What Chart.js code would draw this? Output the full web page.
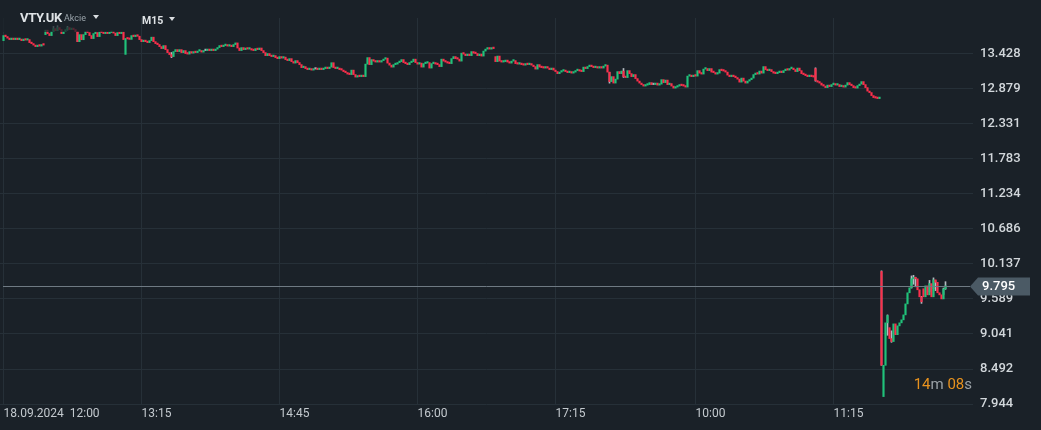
<!DOCTYPE html>
<html>
<head>
<meta charset="utf-8">
<script src="https://cdn.jsdelivr.net/npm/chart.js@4"></script>
<style>
  html, body { margin: 0; padding: 0; background: #1a2128; overflow: hidden; }
  #wrap { position: relative; width: 1041px; height: 430px; }
  canvas { display: block; }
  .hdr { position: absolute; font-family: Roboto, sans-serif; color: #dfe3e6; white-space: nowrap; }
  .sym { left: 20px; top: 10px; font-size: 13px; font-weight: 700; letter-spacing: -0.3px; }
  .kind { left: 64px; top: 13px; font-size: 9px; color: #9aa4ab; }
  .tri { width: 0; height: 0; border-left: 3.5px solid transparent; border-right: 3.5px solid transparent; border-top: 4px solid #d9dde0; }
  .tf { left: 142px; top: 14px; font-size: 10.5px; font-weight: 700; }
  #timer { position: absolute; right: 69px; top: 375px; font-family: Roboto, sans-serif; font-size: 15px; color: #9aa1a6; }
  #timer b { font-weight: 400; color: #e8921e; }
</style>
</head>
<body>
<div id="wrap">
  <canvas id="chart" width="1041" height="430"></canvas>
  <div class="hdr sym">VTY.UK</div>
  <div class="hdr kind">Akcie</div>
  <div class="hdr tri" style="left:93px;top:15px"></div>
  <div class="hdr tf">M15</div>
  <div class="hdr tri" style="left:169px;top:17px"></div>
  <div id="timer"></div>
</div>
<script>
(function () {
    'use strict';

    // ── data ─────────────────────────────────────────────────────────
    const timeLabels = ['18.09.2024  12:00', '13:15', '14:45', '16:00', '17:15', '10:00', '11:15'];
    const labelIdx = [0, 69, 138, 207, 276, 346, 415];   // candle index under each time label
    const priceTicks = [13.428, 12.879, 12.331, 11.783, 11.234, 10.686, 10.137, 9.589, 9.041, 8.492, 7.944];
    const lastPrice = 9.795;
    const countdown = [['14', true], ['m ', false], ['08', true], ['s', false]];

    // close of every candle, in order
    const closes = [
        13.715, 13.699, 13.675, 13.652, 13.66, 13.652, 13.66, 13.652, 13.66, 13.636,
        13.66, 13.644, 13.652, 13.605, 13.589, 13.566, 13.542, 13.558, 13.55, 13.574,
        13.566, 13.80, 13.746, 13.715, 13.777, 13.824, 13.793, 13.84, 13.809, 13.746,
        13.777, 13.809, 13.84, 13.809, 13.832, 13.809, 13.777, 13.62, 13.73, 13.65,
        13.73, 13.777, 13.762, 13.715, 13.668, 13.746, 13.762, 13.699, 13.77, 13.762,
        13.746, 13.762, 13.746, 13.762, 13.777, 13.754, 13.715, 13.762, 13.746, 13.77,
        13.652, 13.67, 13.662, 13.655, 13.715, 13.699, 13.72, 13.705, 13.652, 13.62,
        13.644, 13.62, 13.605, 13.636, 13.69, 13.62, 13.589, 13.574, 13.542, 13.511,
        13.558, 13.495, 13.448, 13.417, 13.386, 13.464, 13.495, 13.464, 13.495, 13.448,
        13.48, 13.433, 13.425, 13.464, 13.44, 13.464, 13.448, 13.472, 13.48, 13.456,
        13.48, 13.48, 13.488, 13.48, 13.495, 13.48, 13.503, 13.527, 13.558, 13.542,
        13.558, 13.566, 13.55, 13.558, 13.542, 13.574, 13.60, 13.52, 13.48, 13.527,
        13.495, 13.52, 13.503, 13.511, 13.488, 13.48, 13.511, 13.495, 13.52, 13.48,
        13.448, 13.401, 13.433, 13.401, 13.386, 13.401, 13.37, 13.354, 13.386, 13.362,
        13.378, 13.339, 13.323, 13.354, 13.307, 13.284, 13.323, 13.292, 13.26, 13.213,
        13.229, 13.198, 13.182, 13.198, 13.174, 13.19, 13.19, 13.182, 13.198, 13.182,
        13.198, 13.213, 13.198, 13.221, 13.29, 13.214, 13.198, 13.206, 13.182, 13.174,
        13.151, 13.135, 13.112, 13.104, 13.174, 13.104, 13.065, 13.088, 13.072, 13.088,
        13.072, 13.268, 13.37, 13.26, 13.339, 13.315, 13.3, 13.307, 13.3, 13.323,
        13.346, 13.362, 13.284, 13.252, 13.221, 13.26, 13.268, 13.292, 13.307, 13.339,
        13.292, 13.276, 13.26, 13.292, 13.307, 13.346, 13.292, 13.268, 13.284, 13.221,
        13.276, 13.284, 13.292, 13.206, 13.276, 13.292, 13.268, 13.26, 13.229, 13.346,
        13.315, 13.3, 13.284, 13.276, 13.354, 13.386, 13.354, 13.346, 13.315, 13.44,
        13.425, 13.401, 13.425, 13.401, 13.464, 13.44, 13.433, 13.401, 13.425, 13.394,
        13.472, 13.503, 13.527, 13.503, 13.52, 13.511, 13.307, 13.394, 13.315, 13.3,
        13.307, 13.331, 13.3, 13.284, 13.315, 13.323, 13.276, 13.268, 13.284, 13.26,
        13.252, 13.276, 13.26, 13.276, 13.252, 13.229, 13.19, 13.26, 13.221, 13.213,
        13.206, 13.229, 13.206, 13.182, 13.206, 13.174, 13.151, 13.119, 13.143, 13.159,
        13.174, 13.151, 13.135, 13.151, 13.127, 13.143, 13.166, 13.174, 13.159, 13.151,
        13.221, 13.198, 13.229, 13.252, 13.229, 13.213, 13.221, 13.206, 13.213, 13.206,
        13.237, 13.252, 13.143, 12.994, 13.072, 12.971, 13.033, 13.151, 13.119, 13.159,
        13.072, 13.057, 13.166, 13.119, 13.072, 13.104, 13.041, 13.002, 12.971, 12.947,
        12.924, 12.939, 12.947, 12.978, 12.947, 12.947, 12.971, 12.939, 12.955, 13.025,
        12.978, 13.018, 12.947, 12.963, 12.924, 12.892, 12.908, 12.924, 12.947, 12.931,
        12.924, 12.908, 13.08, 13.088, 13.072, 13.088, 13.08, 13.166, 13.127, 13.112,
        13.19, 13.198, 13.166, 13.198, 13.143, 13.135, 13.112, 13.127, 13.182, 13.166,
        13.159, 13.143, 13.096, 13.072, 13.088, 13.072, 13.057, 13.033, 12.986, 13.049,
        13.002, 12.971, 13.002, 13.025, 13.049, 13.104, 13.127, 13.112, 13.159, 13.127,
        13.229, 13.182, 13.166, 13.182, 13.151, 13.127, 13.119, 13.135, 13.159, 13.135,
        13.166, 13.19, 13.174, 13.198, 13.206, 13.182, 13.151, 13.206, 13.166, 13.119,
        13.104, 13.088, 13.072, 13.096, 13.072, 13.065, 13.01, 12.986, 12.971, 12.939,
        12.924, 12.9, 12.939, 12.916, 12.947, 12.955, 12.939, 12.947, 12.916, 12.931,
        12.908, 12.939, 12.978, 12.947, 12.931, 12.9, 12.892, 12.931, 12.955, 12.994,
        12.947, 12.9, 12.845, 12.822, 12.775, 12.744, 12.736, 12.728, 12.744, 8.55,
        8.55, 9.215, 9.33, 8.969, 8.922, 9.199, 9.03, 9.168, 9.215, 9.262,
        9.34, 9.512, 9.686, 9.764, 9.905, 9.913, 9.905, 9.733, 9.623, 9.545,
        9.623, 9.795, 9.654, 9.83, 9.623, 9.889, 9.85, 9.686, 9.654, 9.59,
        9.748, 9.795
    ];

    // candles that did not open at the previous close: [index, open]
    const gapOpens = [
        [0, 13.636], [21, 13.73], [61, 13.42], [246, 13.386], [406, 13.198],
        [439, 10.02], [440, 8.06], [443, 9.14], [460, 9.75]
    ];

    // visible shadows: [index, low, high]
    const wicks = [
        [25, 13.79, 13.86], [27, 13.80, 13.87], [32, 13.80, 13.86], [37, 13.62, 13.77],
        [84, 13.37, 13.45], [303, 12.97, 13.14], [310, 13.06, 13.20], [406, 13.00, 13.21],
        [439, 8.55, 10.03], [442, 9.02, 9.34], [444, 8.91, 9.09], [454, 9.76, 9.95],
        [455, 9.82, 9.96], [456, 9.78, 9.93], [459, 9.52, 9.63], [463, 9.70, 9.88],
        [465, 9.75, 9.92], [466, 9.72, 9.88], [470, 9.66, 9.76], [471, 9.74, 9.86]
    ];

    // ── colours ──────────────────────────────────────────────────────
    const UP = '#20c27a', DOWN = '#fb2f4c', FLAT = '#a3abb1';
    const GRID = '#263038';

    const opens = closes.map(function (c, i) {
        const g = gapOpens.find(function (e) { return e[0] === i; });
        if (g) return g[1];
        return i === 0 ? c : closes[i - 1];
    });

    const bodyData = closes.map(function (c, i) { return { x: i, y: [opens[i], c] }; });
    const bodyColors = closes.map(function (c, i) {
        return c > opens[i] ? UP : (c < opens[i] ? DOWN : FLAT);
    });
    const wickData = wicks.map(function (w) { return { x: w[0], y: [w[1], w[2]] }; });

    // timer text
    const timer = document.getElementById('timer');
    countdown.forEach(function (p) {
        const el = document.createElement(p[1] ? 'b' : 'span');
        el.textContent = p[0];
        timer.appendChild(el);
    });

    // dim strip under the header + last price line and tag
    const overlayPlugin = {
        id: 'overlay',
        afterDatasetsDraw: function (chart) {
            const ctx = chart.ctx;
            ctx.save();
            ctx.fillStyle = 'rgba(26, 33, 40, 0.72)';
            ctx.fillRect(0, 0, 135, 32);
            ctx.restore();
        },
        afterDraw: function (chart) {
            const ctx = chart.ctx;
            const y = Math.round(chart.scales.y.getPixelForValue(lastPrice)) + 0.5;
            ctx.save();
            ctx.strokeStyle = '#6f7a83';
            ctx.lineWidth = 1;
            ctx.beginPath();
            ctx.moveTo(3, y);
            ctx.lineTo(970, y);
            ctx.stroke();

            ctx.fillStyle = '#4b5a65';
            ctx.beginPath();
            ctx.moveTo(970, y);
            ctx.lineTo(978, y - 9);
            ctx.lineTo(1030, y - 9);
            ctx.lineTo(1030, y + 9);
            ctx.lineTo(978, y + 9);
            ctx.closePath();
            ctx.fill();

            ctx.fillStyle = '#ffffff';
            ctx.font = '500 13px Roboto, sans-serif';
            ctx.textAlign = 'left';
            ctx.textBaseline = 'middle';
            ctx.fillText(lastPrice.toFixed(3), 982, y + 0.5);
            ctx.restore();
        }
    };

    const pxPerUnit = 63.84;
    const yMin = priceTicks[priceTicks.length - 1];

    new Chart(document.getElementById('chart'), {
        type: 'bar',
        data: {
            datasets: [{
                label: 'wick',
                data: wickData,
                backgroundColor: '#b3bac0',
                barThickness: 1,
                grouped: false,
                order: 2
            }, {
                label: 'body',
                data: bodyData,
                backgroundColor: bodyColors,
                barThickness: 1.5,
                minBarLength: 1.5,
                grouped: false,
                order: 1
            }]
        },
        options: {
            responsive: false,
            devicePixelRatio: 1,
            animation: false,
            layout: { padding: { top: 18, left: 0, right: 0, bottom: 0 } },
            plugins: { legend: { display: false }, tooltip: { enabled: false } },
            scales: {
                x: {
                    type: 'linear',
                    offset: false,
                    min: -1.75,
                    max: 484.75,
                    border: { display: false },
                    grid: { color: GRID, drawTicks: false, offset: false },
                    afterBuildTicks: function (s) { s.ticks = labelIdx.map(function (v) { return { value: v }; }); },
                    afterFit: function (s) { s.height = 26; },
                    ticks: {
                        autoSkip: false,
                        maxRotation: 0,
                        align: 'start',
                        padding: 3,
                        color: '#c3c9ce',
                        font: { family: 'Roboto', size: 12 },
                        callback: function (v, i) { return timeLabels[i]; }
                    }
                },
                y: {
                    position: 'right',
                    min: yMin,
                    max: yMin + 386 / pxPerUnit,
                    border: { display: false },
                    grid: { color: GRID, drawTicks: false },
                    afterBuildTicks: function (s) { s.ticks = priceTicks.map(function (v) { return { value: v }; }); },
                    afterFit: function (s) { s.width = 68; },
                    ticks: {
                        padding: 7,
                        color: '#d2d7db',
                        font: { family: 'Roboto', size: 13, weight: '500' },
                        callback: function (v) { return v.toFixed(3); }
                    }
                }
            }
        },
        plugins: [overlayPlugin]
    });
})();
</script>
</body>
</html>
